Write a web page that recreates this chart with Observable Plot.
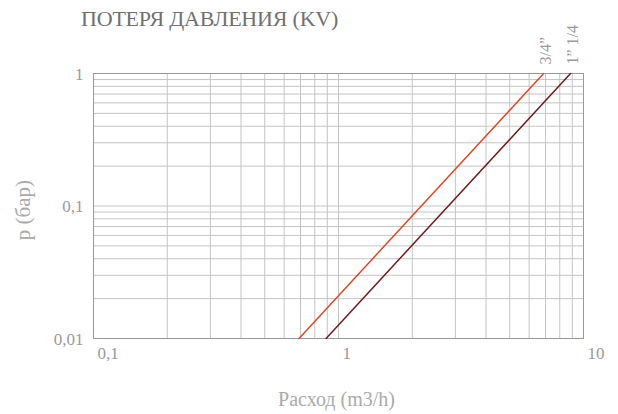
<!DOCTYPE html>
<html>
<head>
<meta charset="utf-8">
<script src="https://cdn.jsdelivr.net/npm/d3@7"></script>
<script src="https://cdn.jsdelivr.net/npm/@observablehq/plot@0.6"></script>
<style>
  body { margin: 0; background: #fff; }
  #wrap { position: relative; width: 618px; height: 414px; font-family: "Liberation Serif", "DejaVu Serif", serif; }
  #title { position: absolute; left: 81px; top: 6px; font-size: 22px; color: #707070; white-space: nowrap; letter-spacing: -0.2px; }
</style>
</head>
<body>
<div id="wrap"><div id="title">ПОТЕРЯ ДАВЛЕНИЯ (KV)</div></div>
<script>
// Series: names, colours and endpoints (flow at p = 0.01 bar and p = 1 bar)
const seriesNames = ["3/4”", "1” 1/4"];
const seriesColors = ["#e0482c", "#6e1c1c"];
const flowAtLow = [0.69, 0.89];   // m3/h at p = 0.01
const flowAtHigh = [6.87, 8.85];  // m3/h at p = 1
const pLow = 0.01, pHigh = 1;

// Axis ticks and labels
const xTicks = [0.1, 1, 10];
const xTickLabels = ["0,1", "1", "10"];
const yTicks = [0.01, 0.1, 1];
const yTickLabels = ["0,01", "0,1", "1"];
const xGrid = [0.2,0.3,0.4,0.5,0.6,0.7,0.8,0.9,1,2,3,4,5,6,7,8,9];
const yGrid = [0.02,0.03,0.04,0.05,0.06,0.07,0.08,0.09,0.1,0.2,0.3,0.4,0.5,0.6,0.7,0.8,0.9];

const lines = seriesNames.flatMap((s, i) => [
  {series: s, q: flowAtLow[i], p: pLow},
  {series: s, q: flowAtHigh[i], p: pHigh}
]);
const tops = seriesNames.map((s, i) => ({series: s, q: flowAtHigh[i], p: pHigh}));
const xt = xTicks.map((v, i) => ({v, label: xTickLabels[i]}));
const yt = yTicks.map((v, i) => ({v, label: yTickLabels[i]}));

const chart = Plot.plot({
  width: 618,
  height: 414,
  marginTop: 73,
  marginBottom: 76,
  marginLeft: 93,
  marginRight: 35,
  style: {fontFamily: "'Liberation Serif', 'DejaVu Serif', serif", background: "transparent", overflow: "visible"},
  x: {type: "log", domain: [0.1, 10], axis: null},
  y: {type: "log", domain: [0.01, 1], axis: null},
  color: {domain: seriesNames, range: seriesColors},
  marks: [
    Plot.ruleX(xGrid, {x: d => d, stroke: "#c4c4c4", strokeWidth: 1}),
    Plot.ruleY(yGrid, {y: d => d, stroke: "#c4c4c4", strokeWidth: 1}),
    Plot.frame({stroke: "#999"}),
    Plot.line(lines, {x: "q", y: "p", z: "series", stroke: "series", strokeWidth: 1.5}),
    Plot.text(tops, {x: "q", y: "p", text: "series", rotate: -90, textAnchor: "start", dy: -9, dx: 2, fontSize: 16, fill: "#999"}),
    Plot.text(xt, {x: "v", text: "label", frameAnchor: "bottom", textAnchor: "start", lineAnchor: "top", dx: 4, dy: 8, fontSize: 17, fill: "#999"}),
    Plot.text(yt, {y: "v", text: "label", frameAnchor: "left", textAnchor: "end", dx: -10, dy: 1, fontSize: 17, fill: "#999"}),
    Plot.text(["Расход (m3/h)"], {frameAnchor: "bottom", text: d => d, textAnchor: "middle", lineAnchor: "bottom", dy: 67, dx: -2, fontSize: 20, fill: "#aaa"}),
    Plot.text(["p (бар)"], {frameAnchor: "left", text: d => d, textAnchor: "middle", rotate: -90, dx: -70, dy: 4, fontSize: 21, fill: "#aaa"})
  ]
});
document.getElementById("wrap").appendChild(chart);
chart.style.position = "absolute";
chart.style.left = "0";
chart.style.top = "0";
</script>
</body>
</html>
